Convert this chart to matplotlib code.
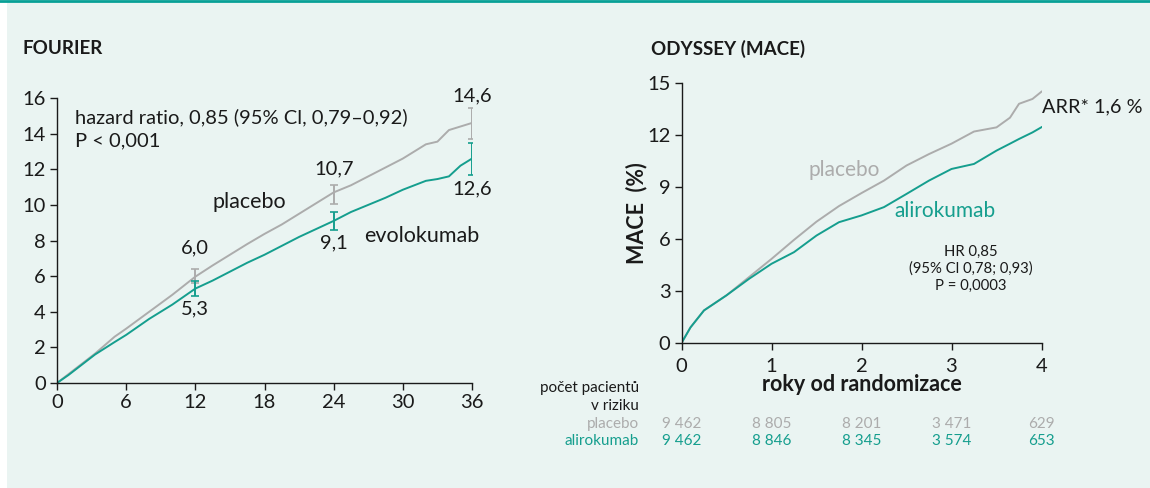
import matplotlib.pyplot as plt
from matplotlib.patches import Rectangle
from matplotlib.lines import Line2D
import matplotlib.transforms as mtransforms

plt.rcParams['font.family'] = ['Lato', 'DejaVu Sans']

BG = '#eaf4f2'
TEAL = '#159e8e'
GRAY = '#acacac'
DARK = '#1a1a1a'

# FOURIER (months vs. %)
f_months = [0, 1, 2, 3.3, 5, 6, 8, 10, 12, 13.5, 15, 16.5, 18, 19.5, 21, 22.5, 24,
            25.5, 27, 28.5, 30, 31, 32, 33, 34, 35, 36]
f_placebo = [0, 0.5, 1.0, 1.65, 2.6, 3.05, 4.0, 4.95, 5.97, 6.6, 7.2, 7.8, 8.37, 8.9,
             9.5, 10.1, 10.7, 11.1, 11.6, 12.1, 12.6, 13.0, 13.4, 13.55, 14.2, 14.4, 14.6]
f_evolo = [0, 0.45, 0.95, 1.6, 2.3, 2.7, 3.6, 4.4, 5.3, 5.75, 6.25, 6.75, 7.2, 7.7,
           8.2, 8.65, 9.1, 9.6, 10.0, 10.4, 10.85, 11.1, 11.35, 11.45, 11.6, 12.2, 12.6]
f_ci_x = [12, 24, 36]
f_ci_placebo = [(5.6, 6.4), (10.05, 11.1), (13.7, 15.45)]
f_ci_evolo = [(4.9, 5.7), (8.6, 9.6), (11.65, 13.45)]
f_pt_placebo = [6.0, 10.7, 14.6]
f_pt_evolo = [5.3, 9.1, 12.6]
f_lbl_placebo = ['6,0', '10,7', '14,6']
f_lbl_evolo = ['5,3', '9,1', '12,6']

# ODYSSEY (years vs. %)
o_years = [0, 0.1, 0.25, 0.5, 0.75, 1.0, 1.25, 1.5, 1.75, 2.0, 2.25, 2.5, 2.75,
           3.0, 3.25, 3.5, 3.65, 3.75, 3.9, 4.0]
o_placebo = [0, 0.9, 1.88, 2.75, 3.8, 4.85, 5.95, 7.0, 7.9, 8.65, 9.37, 10.24, 10.9,
             11.5, 12.2, 12.44, 13.0, 13.8, 14.08, 14.5]
o_aliro = [0, 0.9, 1.88, 2.75, 3.7, 4.57, 5.24, 6.2, 6.97, 7.36, 7.84, 8.6, 9.37,
           10.04, 10.33, 11.1, 11.5, 11.77, 12.15, 12.45]
risk_years = [0, 1, 2, 3, 4]
risk_placebo = ['9 462', '8 805', '8 201', '3 471', '629']
risk_aliro = ['9 462', '8 846', '8 345', '3 574', '653']


def style_axes(ax, pad=3):
    ax.set_facecolor('none')
    for s in ['top', 'right']:
        ax.spines[s].set_visible(False)
    for s in ['left', 'bottom']:
        ax.spines[s].set_color(DARK)
        ax.spines[s].set_linewidth(1.0)
    ax.tick_params(direction='out', length=5, width=1.0, color=DARK,
                   labelsize=14.5, labelcolor=DARK, pad=3)
    ax.tick_params(axis='x', pad=pad)


fig = plt.figure(figsize=(11.5, 4.88), dpi=100)
fig.patch.set_facecolor('white')
fig.add_artist(Rectangle((7 / 1150, 0), 1 - 7 / 1150, 1, transform=fig.transFigure,
                         facecolor=BG, edgecolor='none', zorder=-10))
fig.add_artist(Line2D([0, 1], [1 - 1 / 488, 1 - 1 / 488], transform=fig.transFigure,
                      color='#07a096', linewidth=2))

# ---- FOURIER
ax1 = fig.add_axes([57 / 1150, 1 - 383 / 488, (472 - 57) / 1150, (383 - 98) / 488])
style_axes(ax1)
ax1.plot(f_months, f_placebo, color=GRAY, lw=1.4)
ax1.plot(f_months, f_evolo, color=TEAL, lw=1.4)
for x, (lo, hi) in zip(f_ci_x, f_ci_placebo):
    ax1.errorbar([x], [(lo + hi) / 2], yerr=[[(hi - lo) / 2], [(hi - lo) / 2]],
                 fmt='none', ecolor=GRAY, elinewidth=1.4, capsize=3, capthick=1.2)
for x, (lo, hi) in zip(f_ci_x, f_ci_evolo):
    ax1.errorbar([x], [(lo + hi) / 2], yerr=[[(hi - lo) / 2], [(hi - lo) / 2]],
                 fmt='none', ecolor=TEAL, elinewidth=1.4, capsize=3, capthick=1.2)
# label offsets in points (above placebo, below evolokumab)
up_off = [20, 17, 19.5]
down_off = [-14.5, -16, -21.5]
for x, y, t, dy in zip(f_ci_x, f_pt_placebo, f_lbl_placebo, up_off):
    ax1.annotate(t, (x, y), xytext=(0, dy), textcoords='offset points',
                 ha='center', va='center', fontsize=14.5, color=DARK)
for x, y, t, dy in zip(f_ci_x, f_pt_evolo, f_lbl_evolo, down_off):
    ax1.annotate(t, (x, y), xytext=(0, dy), textcoords='offset points',
                 ha='center', va='center', fontsize=14.5, color=DARK)
ax1.set_xlim(0, 36)
ax1.set_ylim(0, 16)
ax1.set_xticks([0, 6, 12, 18, 24, 30, 36])
ax1.set_yticks(range(0, 17, 2))
ax1.text(1.6, 14.95, 'hazard ratio, 0,85 (95% Cl, 0,79–0,92)', fontsize=14.5,
         color=DARK, va='center')
ax1.text(1.6, 13.6, 'P < 0,001', fontsize=14.5, color=DARK, va='center')
ax1.text(16.7, 10.15, 'placebo', fontsize=15.5, color=DARK, ha='center', va='center')
ax1.text(31.6, 8.27, 'evolokumab', fontsize=15.5, color=DARK, ha='center', va='center')
fig.text(22 / 1150, 1 - 49 / 488, 'FOURIER', fontsize=13.5, fontweight='bold',
         color=DARK, va='center')

# ---- ODYSSEY
ax2 = fig.add_axes([681.5 / 1150, 1 - 343 / 488, (1041.5 - 681.5) / 1150, (343 - 83) / 488])
style_axes(ax2, pad=6)
ax2.plot(o_years, o_placebo, color=GRAY, lw=1.4)
ax2.plot(o_years, o_aliro, color=TEAL, lw=1.4)
ax2.set_xlim(0, 4)
ax2.set_ylim(0, 15)
ax2.set_xticks(risk_years)
ax2.set_yticks([0, 3, 6, 9, 12, 15])
ax2.set_ylabel('MACE  (%)', fontsize=15.5, fontweight='bold', color=DARK, labelpad=0)
ax2.set_xlabel('roky od randomizace', fontsize=15.5, fontweight='bold', color=DARK,
               labelpad=-1)
ax2.text(1.81, 9.99, 'placebo', fontsize=15, color=GRAY, ha='center', va='center')
ax2.text(2.93, 7.64, 'alirokumab', fontsize=15, color=TEAL, ha='center', va='center')
ax2.text(4.0, 13.65, 'ARR* 1,6 %', fontsize=14.3, color=DARK, va='center', clip_on=False)
ax2.text(3.21, 4.3, 'HR 0,85\n(95% Cl 0,78; 0,93)\nP = 0,0003', fontsize=10.7,
         color=DARK, ha='center', va='center', linespacing=1.25)
fig.text(651 / 1150, 1 - 49 / 488, 'ODYSSEY (MACE)', fontsize=13.5, fontweight='bold',
         color=DARK, va='center')

# risk table
trans = mtransforms.blended_transform_factory(ax2.transData, fig.transFigure)
lx = 639 / 1150
fs = 11
fig.text(lx, 1 - 388 / 488, 'počet pacientů', fontsize=fs, color=DARK, ha='right', va='center')
fig.text(lx, 1 - 406 / 488, 'v riziku', fontsize=fs, color=DARK, ha='right', va='center')
fig.text(lx, 1 - 424 / 488, 'placebo', fontsize=fs, color=GRAY, ha='right', va='center')
fig.text(lx, 1 - 441 / 488, 'alirokumab', fontsize=fs, color=TEAL, ha='right', va='center')
for x, p, a in zip(risk_years, risk_placebo, risk_aliro):
    ax2.text(x, 1 - 424 / 488, p, transform=trans, fontsize=fs, color=GRAY,
             ha='center', va='center')
    ax2.text(x, 1 - 441 / 488, a, transform=trans, fontsize=fs, color=TEAL,
             ha='center', va='center')

fig.savefig('out.png', dpi=100, facecolor=fig.get_facecolor())
